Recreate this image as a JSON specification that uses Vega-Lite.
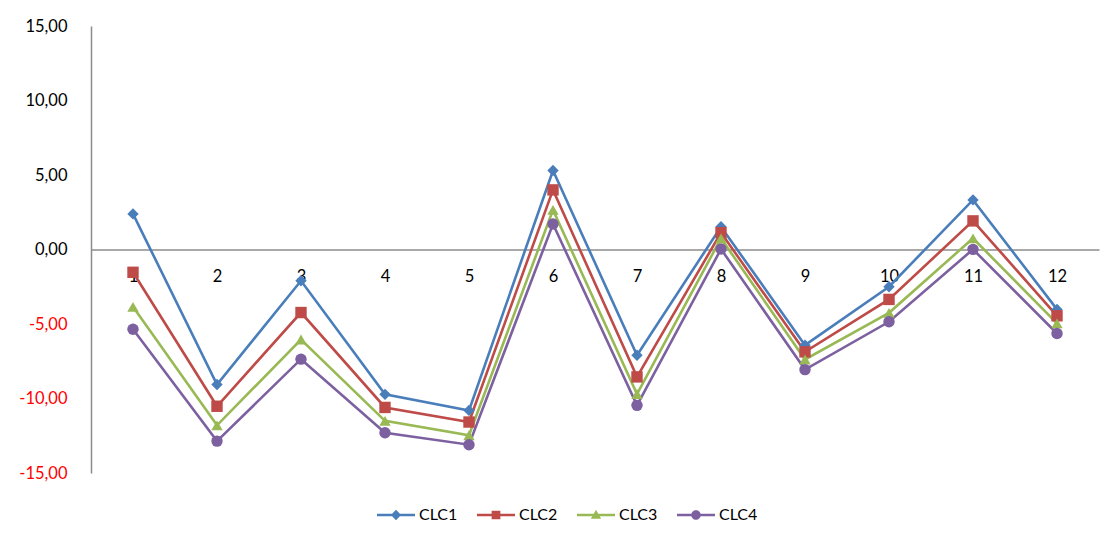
{
  "$schema": "https://vega.github.io/schema/vega-lite/v6.json",
  "width": 1008,
  "height": 447,
  "autosize": "none",
  "padding": {"left": 91, "top": 26, "right": 16, "bottom": 70},
  "background": "white",
  "config": {
    "font": "Lato",
    "view": {"stroke": null},
    "legend": {
      "symbolSize": 1444,
      "symbolStrokeWidth": 0,
      "labelFontSize": 16,
      "labelColor": "black",
      "labelFont": "Lato",
      "labelOffset": 4,
      "columnPadding": 19,
      "padding": 0
    }
  },
  "data": {
    "values": [
      {"x": 1, "series": "CLC1", "v": 2.39},
      {"x": 2, "series": "CLC1", "v": -9.06},
      {"x": 3, "series": "CLC1", "v": -2.1},
      {"x": 4, "series": "CLC1", "v": -9.72},
      {"x": 5, "series": "CLC1", "v": -10.8},
      {"x": 6, "series": "CLC1", "v": 5.3},
      {"x": 7, "series": "CLC1", "v": -7.1},
      {"x": 8, "series": "CLC1", "v": 1.53},
      {"x": 9, "series": "CLC1", "v": -6.42},
      {"x": 10, "series": "CLC1", "v": -2.5},
      {"x": 11, "series": "CLC1", "v": 3.33},
      {"x": 12, "series": "CLC1", "v": -4.02},
      {"x": 1, "series": "CLC2", "v": -1.53},
      {"x": 2, "series": "CLC2", "v": -10.52},
      {"x": 3, "series": "CLC2", "v": -4.23},
      {"x": 4, "series": "CLC2", "v": -10.6},
      {"x": 5, "series": "CLC2", "v": -11.58},
      {"x": 6, "series": "CLC2", "v": 4.0},
      {"x": 7, "series": "CLC2", "v": -8.55},
      {"x": 8, "series": "CLC2", "v": 1.13},
      {"x": 9, "series": "CLC2", "v": -6.87},
      {"x": 10, "series": "CLC2", "v": -3.35},
      {"x": 11, "series": "CLC2", "v": 1.92},
      {"x": 12, "series": "CLC2", "v": -4.45},
      {"x": 1, "series": "CLC3", "v": -3.85},
      {"x": 2, "series": "CLC3", "v": -11.8},
      {"x": 3, "series": "CLC3", "v": -6.04},
      {"x": 4, "series": "CLC3", "v": -11.5},
      {"x": 5, "series": "CLC3", "v": -12.47},
      {"x": 6, "series": "CLC3", "v": 2.66},
      {"x": 7, "series": "CLC3", "v": -9.7},
      {"x": 8, "series": "CLC3", "v": 0.75},
      {"x": 9, "series": "CLC3", "v": -7.38},
      {"x": 10, "series": "CLC3", "v": -4.25},
      {"x": 11, "series": "CLC3", "v": 0.75},
      {"x": 12, "series": "CLC3", "v": -4.96},
      {"x": 1, "series": "CLC4", "v": -5.35},
      {"x": 2, "series": "CLC4", "v": -12.86},
      {"x": 3, "series": "CLC4", "v": -7.36},
      {"x": 4, "series": "CLC4", "v": -12.3},
      {"x": 5, "series": "CLC4", "v": -13.1},
      {"x": 6, "series": "CLC4", "v": 1.71},
      {"x": 7, "series": "CLC4", "v": -10.46},
      {"x": 8, "series": "CLC4", "v": 0.03},
      {"x": 9, "series": "CLC4", "v": -8.06},
      {"x": 10, "series": "CLC4", "v": -4.85},
      {"x": 11, "series": "CLC4", "v": 0.01},
      {"x": 12, "series": "CLC4", "v": -5.64}
    ]
  },
  "encoding": {
    "x": {
      "field": "x",
      "type": "ordinal",
      "scale": {"type": "point", "padding": 0.5},
      "axis": {
        "orient": "bottom",
        "offset": -223.5,
        "title": null,
        "labelAngle": 0,
        "ticks": false,
        "tickSize": 0,
        "labelPadding": 19,
        "labelFontSize": 16.5,
        "labelColor": "black",
        "domainColor": "#8c8c8c",
        "domainWidth": 1.5
      }
    },
    "y": {
      "field": "v",
      "type": "quantitative",
      "scale": {"domain": [-15, 15], "nice": false, "zero": false},
      "axis": {
        "title": null,
        "values": [-15, -10, -5, 0, 5, 10, 15],
        "grid": false,
        "ticks": false,
        "tickSize": 0,
        "labelPadding": 24,
        "labelFontSize": 16.5,
        "labelExpr": "(datum.value < 0 ? '-' : '') + replace(format(abs(datum.value), '.2f'), '.', ',')",
        "labelColor": {"condition": {"test": "datum.value < 0", "value": "#ff0000"}, "value": "black"},
        "domainColor": "#8c8c8c",
        "domainWidth": 1.5
      }
    }
  },
  "layer": [
    {
      "mark": {"type": "line", "strokeWidth": 2.6},
      "encoding": {
        "color": {
          "field": "series",
          "type": "nominal",
          "scale": {"domain": ["CLC1", "CLC2", "CLC3", "CLC4"], "range": ["#4A7EBB", "#BE4B48", "#98B954", "#7D60A0"]},
          "legend": null
        }
      }
    },
    {
      "mark": {"type": "point", "filled": true, "opacity": 1, "size": 130, "strokeWidth": 0},
      "encoding": {
        "color": {
          "field": "series",
          "type": "nominal",
          "scale": {"domain": ["CLC1", "CLC2", "CLC3", "CLC4"], "range": ["#4A7EBB", "#BE4B48", "#98B954", "#7D60A0"]},
          "legend": null
        },
        "shape": {
          "field": "series",
          "type": "nominal",
          "scale": {"domain": ["CLC1", "CLC2", "CLC3", "CLC4"], "range": ["diamond", "square", "triangle-up", "circle"]},
          "legend": null
        }
      }
    },
    {
      "transform": [{"filter": "datum.x > 100"}],
      "mark": {"type": "point", "filled": true, "opacity": 1, "size": 1444, "strokeWidth": 0},
      "encoding": {
        "color": {
          "field": "series",
          "type": "nominal",
          "scale": {"domain": ["CLC1", "CLC2", "CLC3", "CLC4"], "range": ["#4A7EBB", "#BE4B48", "#98B954", "#7D60A0"]},
          "legend": {"title": null, "orient": "none", "direction": "horizontal", "legendX": 286, "legendY": 470}
        },
        "shape": {
          "field": "series",
          "type": "nominal",
          "scale": {
            "domain": ["CLC1", "CLC2", "CLC3", "CLC4"],
            "range": [
              "M-1,-0.065H1V0.065H-1Z M0,-0.27L0.27,0L0,0.27L-0.27,0Z",
              "M-1,-0.065H1V0.065H-1Z M-0.23,-0.23H0.23V0.23H-0.23Z",
              "M-1,-0.065H1V0.065H-1Z M0,-0.28L0.27,0.2L-0.27,0.2Z",
              "M-1,-0.065H1V0.065H-1Z M-0.25,0A0.25,0.25 0 1,1 0.25,0A0.25,0.25 0 1,1 -0.25,0Z"
            ]
          },
          "legend": {"title": null, "orient": "none", "direction": "horizontal", "legendX": 286, "legendY": 470}
        }
      }
    }
  ],
  "resolve": {"scale": {"color": "independent", "shape": "independent"}}
}
